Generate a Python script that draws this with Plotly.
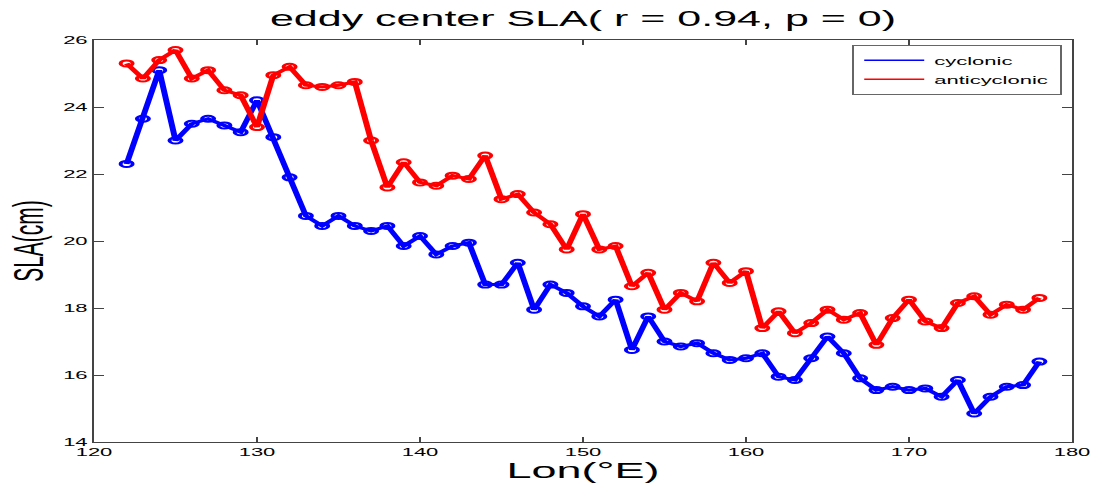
import plotly.graph_objects as go

# Longitude grid (°E)
lon = list(range(122, 179))

# Mean eddy-center SLA (cm) per longitude bin
sla_cyclonic = [
    22.3, 23.65, 25.1, 23.0, 23.5, 23.65, 23.45, 23.25, 24.2, 23.1,
    21.9, 20.75, 20.45, 20.75, 20.45, 20.3, 20.45, 19.85, 20.15, 19.6,
    19.85, 19.95, 18.7, 18.7, 19.35, 17.95, 18.7, 18.45, 18.05, 17.75,
    18.25, 16.75, 17.75, 17.0, 16.85, 16.95, 16.65, 16.45, 16.5, 16.65,
    15.95, 15.85, 16.5, 17.15, 16.65, 15.9, 15.55, 15.65, 15.55, 15.6,
    15.35, 15.85, 14.85, 15.35, 15.65, 15.7, 16.4,
]
sla_anticyclonic = [
    25.3, 24.85, 25.4, 25.7, 24.85, 25.1, 24.5, 24.35, 23.4, 24.95,
    25.2, 24.65, 24.6, 24.65, 24.75, 23.0, 21.6, 22.35, 21.75, 21.65,
    21.95, 21.85, 22.55, 21.25, 21.4, 20.85, 20.5, 19.75, 20.8, 19.75,
    19.85, 18.65, 19.05, 17.95, 18.45, 18.2, 19.35, 18.75, 19.1, 17.4,
    17.9, 17.25, 17.55, 17.95, 17.65, 17.85, 16.9, 17.7, 18.25, 17.6,
    17.4, 18.15, 18.35, 17.8, 18.1, 17.95, 18.3,
]

series = [
    ("cyclonic", sla_cyclonic, "#0000ff"),
    ("anticyclonic", sla_anticyclonic, "#ff0000"),
]

# The figure is laid out at half width and widened 2x on the page
STRETCH = 2.0
PAGE_W, PAGE_H = 1096, 485
FIG_W = int(PAGE_W / STRETCH)

FONT = "Arial, Liberation Sans, sans-serif"

fig = go.Figure()
for name, vals, color in series:
    fig.add_trace(go.Scatter(
        x=lon, y=vals, mode="lines+markers", name=name, showlegend=False,
        line=dict(color=color, width=3),
        marker=dict(symbol="circle-open", size=6, color=color,
                    line=dict(color=color, width=2)),
    ))
# Legend entries drawn as plain line samples
for name, vals, color in series:
    fig.add_trace(go.Scatter(
        x=[None], y=[None], mode="lines", name=name,
        line=dict(color=color, width=1.5),
    ))

axis_common = dict(
    showline=True, linecolor="#444444", linewidth=1, mirror="ticks",
    ticks="inside", ticklen=5, tickcolor="#444444", tickwidth=0.6,
    showgrid=False, zeroline=False, automargin=False,
    tickfont=dict(family=FONT, size=11, color="black"),
)

fig.update_layout(
    width=FIG_W, height=PAGE_H,
    margin=dict(l=47, r=12, t=40, b=43, autoexpand=False),
    paper_bgcolor="white", plot_bgcolor="white",
    title=dict(
        text="eddy center SLA( r = 0.94, p = 0)",
        xref="paper", x=0.5, xanchor="center",
        yref="container", y=0.961, yanchor="middle",
        automargin=False,
        font=dict(family=FONT, size=21.5, color="black"),
    ),
    xaxis=dict(
        range=[120, 180], dtick=10, tick0=120,
        title=dict(text="Lon(°E)", standoff=3,
                   font=dict(family=FONT, size=22.5, color="black")),
        **axis_common,
    ),
    yaxis=dict(
        range=[14, 26], dtick=2, tick0=14,
        title=dict(text="SLA(cm)", standoff=3,
                   font=dict(family=FONT, size=21, color="black")),
        **axis_common,
    ),
    legend=dict(
        x=0.99, xanchor="right", y=0.988, yanchor="top",
        bgcolor="white", bordercolor="#666666", borderwidth=1,
        font=dict(family=FONT, size=11, color="black"),
        itemwidth=30, tracegroupgap=0,
    ),
)

post = (
    "var gd = document.getElementById('{plot_id}');"
    "gd.style.transformOrigin = '0 0';"
    "gd.style.transform = 'scaleX(%s)';" % STRETCH
)
fig.write_html("out.html", post_script=post)
